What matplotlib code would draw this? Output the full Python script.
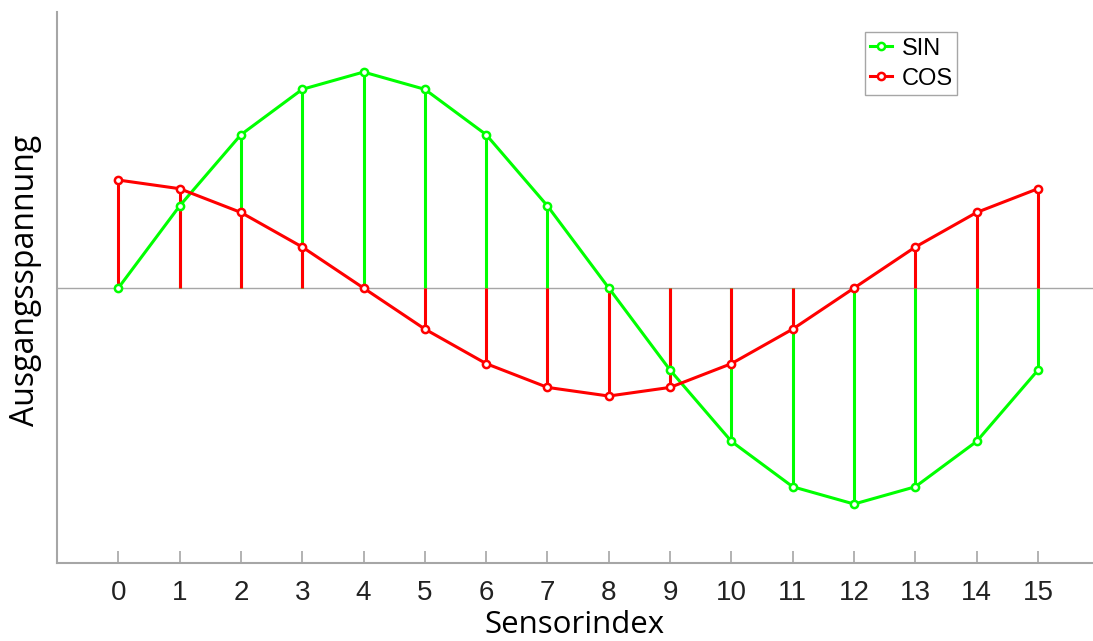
import matplotlib
matplotlib.use("Agg")
import matplotlib.pyplot as plt
from matplotlib.legend_handler import HandlerLine2D
import numpy as np

# Data
sensor_index = list(range(16))
sin_values = [0.0, 0.38, 0.71, 0.92, 1.0, 0.92, 0.71, 0.38, 0.0,
              -0.38, -0.71, -0.92, -1.0, -0.92, -0.71, -0.38]
cos_values = [0.5, 0.46, 0.35, 0.19, 0.0, -0.19, -0.35, -0.46, -0.5,
              -0.46, -0.35, -0.19, 0.0, 0.19, 0.35, 0.46]
series_names = ["SIN", "COS"]
series_colors = ["#00ff00", "#ff0000"]
x_label = "Sensorindex"
y_label = "Ausgangsspannung"

W, H = 1093, 641
fig = plt.figure(figsize=(W / 100, H / 100), dpi=100)
ax = fig.add_axes([57 / W, (H - 563) / H, (1093 - 57) / W, (563 - 12) / H])

gray = "#a6a6a6"
ax.axhline(0, color=gray, lw=1.0, zorder=1)

lines = []
for vals, col in zip([sin_values, cos_values], series_colors):
    ax.vlines(sensor_index, 0, vals, colors=col, lw=2.2, zorder=2)
for vals, col, name in zip([sin_values, cos_values], series_colors, series_names):
    ln, = ax.plot(sensor_index, vals, color=col, lw=2.2, marker="o", ms=5.2,
                  mfc="white", mec=col, mew=1.8, label=name, zorder=3)
    lines.append(ln)

ax.set_xlim(-1, (1093 - 118) / 61.33)
ax.set_ylim(-1.273, 1.278)
ax.set_xticks(sensor_index)
ax.set_xticklabels([str(i) for i in sensor_index], fontsize=20,
                   family="Liberation Sans", color="#222222")
ax.set_yticks([])
ax.tick_params(axis="x", direction="in", length=9, width=1.2, color=gray, pad=12)
for s in ["top", "right"]:
    ax.spines[s].set_visible(False)
for s in ["left", "bottom"]:
    ax.spines[s].set_color(gray)
    ax.spines[s].set_linewidth(1.5)

ax.set_xlabel(x_label, fontsize=22.5, family="Open Sans", labelpad=3)
ax.set_ylabel(y_label, fontsize=23, family="Open Sans")
ax.yaxis.set_label_coords((42 - 57) / (1093 - 57), (563 - 280) / (563 - 12))


class EndMarkerHandler(HandlerLine2D):
    def get_xdata(self, legend, xdescent, ydescent, width, height, fontsize):
        xd = np.array([-xdescent, -xdescent + width])
        return xd, np.array([xd[-1]])


leg = ax.legend(handles=lines, loc="upper left",
                bbox_to_anchor=((865 - 57) / (1093 - 57), (563 - 32) / (563 - 12)),
                frameon=True, fancybox=False, edgecolor=gray, framealpha=1,
                prop={"family": "Liberation Sans", "size": 17},
                handlelength=0.95, handletextpad=0.4, borderpad=0.2,
                handleheight=1.0, labelspacing=0.25, borderaxespad=0,
                handler_map={lines[0]: EndMarkerHandler(numpoints=1),
                             lines[1]: EndMarkerHandler(numpoints=1)})
leg.get_frame().set_linewidth(1.0)

fig.savefig("out.png", dpi=100)
